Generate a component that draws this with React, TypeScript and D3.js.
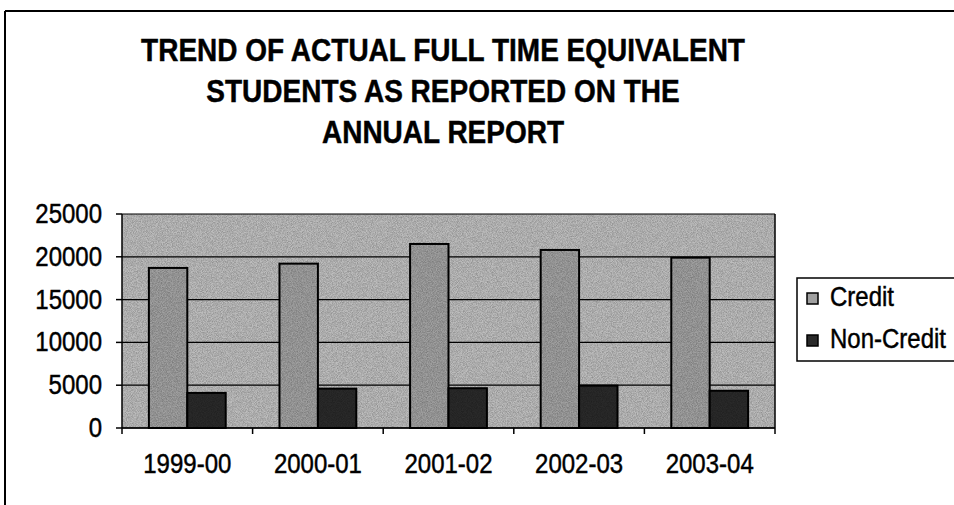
import * as d3 from "d3"

const categories = ["1999-00", "2000-01", "2001-02", "2002-03", "2003-04"]
const seriesNames = ["Credit", "Non-Credit"]
const creditValues = [18700, 19200, 21500, 20800, 19900]
const nonCreditValues = [4100, 4600, 4650, 4950, 4350]
const yTicks = [0, 5000, 10000, 15000, 20000, 25000]
const titleLines = ["TREND OF ACTUAL FULL TIME EQUIVALENT", "STUDENTS AS REPORTED ON THE", "ANNUAL REPORT"]

const W = 954
const H = 505
const FONT = "'Liberation Sans', Arial, sans-serif"
const plot = { left: 122, right: 775, top: 214, bottom: 428 }
const fills = ["#a0a0a0", "#2a2a2a"]

// scanned look: text is a bit heavier and taller than plain Arial
const Label = ({ x, y, anchor, size, bold, children }: any) => (
    <text
        transform={`translate(${x}, ${y}) scale(1, 1.12)`}
        textAnchor={anchor}
        fontSize={size}
        fontWeight={bold ? "bold" : "normal"}
        stroke="#000"
        strokeWidth={0.4}
    >
        {children}
    </text>
)

export default function App() {
    const x0 = d3.scaleBand<string>().domain(categories).range([plot.left, plot.right]).padding(0)
    const x1 = d3.scaleBand<string>().domain(seriesNames).range([0, x0.bandwidth()]).paddingInner(0).paddingOuter(0.7)
    const y = d3.scaleLinear().domain([0, 25000]).range([plot.bottom, plot.top])
    const series = [creditValues, nonCreditValues]
    const boundaries = [...categories.map((c) => x0(c) as number), plot.right]

    return (
        <svg width={W} height={H} style={{ position: "absolute", left: 0, top: 0, background: "#fff" }} fontFamily={FONT}>
            <defs>
                <filter id="grain" x="0" y="0" width="100%" height="100%">
                    <feTurbulence type="fractalNoise" baseFrequency="1.2" numOctaves={1} seed={3} result="n" />
                    <feColorMatrix in="n" type="matrix" values="0 0 0 0 0  0 0 0 0 0  0 0 0 0 0  0 0 0 -1.6 1.1" />
                    <feComposite in2="SourceGraphic" operator="in" />
                </filter>
            </defs>

            {/* outer chart border (only top & left visible) */}
            <line x1={5} x2={W} y1={11} y2={11} stroke="#000" strokeWidth={2} />
            <line x1={5} x2={5} y1={11} y2={H} stroke="#000" strokeWidth={2} />

            {titleLines.map((t, i) => (
                <Label key={t} x={443} y={61 + i * 41} anchor="middle" size={28} bold>{t}</Label>
            ))}

            {/* plot area */}
            <rect x={plot.left} y={plot.top} width={plot.right - plot.left} height={plot.bottom - plot.top} fill="#bdbdbd" />
            <rect x={plot.left} y={plot.top} width={plot.right - plot.left} height={plot.bottom - plot.top} fill="#000" opacity={0.3} filter="url(#grain)" />

            {yTicks.map((t) => (
                <g key={t}>
                    <line x1={plot.left} x2={plot.right} y1={y(t)} y2={y(t)} stroke="#000" strokeWidth={1.2} />
                    <line x1={plot.left - 6} x2={plot.left} y1={y(t)} y2={y(t)} stroke="#000" strokeWidth={1.5} />
                    <Label x={102} y={y(t) + 9} anchor="end" size={24}>{t}</Label>
                </g>
            ))}

            {categories.map((c, i) => (
                <g key={c}>
                    {seriesNames.map((s, j) => {
                        const v = series[j][i]
                        const bx = (x0(c) as number) + (x1(s) as number)
                        return (
                            <g key={s}>
                                <rect x={bx} y={y(v)} width={x1.bandwidth()} height={y(0) - y(v)} fill={fills[j]} stroke="#000" strokeWidth={2} />
                                <rect x={bx} y={y(v)} width={x1.bandwidth()} height={y(0) - y(v)} fill="#000" opacity={0.3} filter="url(#grain)" />
                            </g>
                        )
                    })}
                    <Label x={(x0(c) as number) + x0.bandwidth() / 2} y={473} anchor="middle" size={24}>{c}</Label>
                </g>
            ))}

            <line x1={plot.left} x2={plot.left} y1={plot.top} y2={plot.bottom} stroke="#000" strokeWidth={1.5} />
            <line x1={plot.right} x2={plot.right} y1={plot.top} y2={plot.bottom} stroke="#000" strokeWidth={1.5} />
            <line x1={plot.left} x2={plot.right} y1={plot.bottom} y2={plot.bottom} stroke="#000" strokeWidth={1.5} />
            {boundaries.map((b, i) => (
                <line key={i} x1={b} x2={b} y1={plot.bottom} y2={plot.bottom + 6} stroke="#000" strokeWidth={1.5} />
            ))}

            {/* legend */}
            <rect x={797} y={278} width={170} height={83} fill="#fff" stroke="#000" strokeWidth={1.5} />
            {seriesNames.map((s, j) => (
                <g key={s}>
                    <rect x={807} y={293 + j * 42} width={11} height={11} fill={fills[j]} stroke="#000" strokeWidth={1.5} />
                    <Label x={830} y={306 + j * 42} anchor="start" size={24}>{s}</Label>
                </g>
            ))}
        </svg>
    )
}
